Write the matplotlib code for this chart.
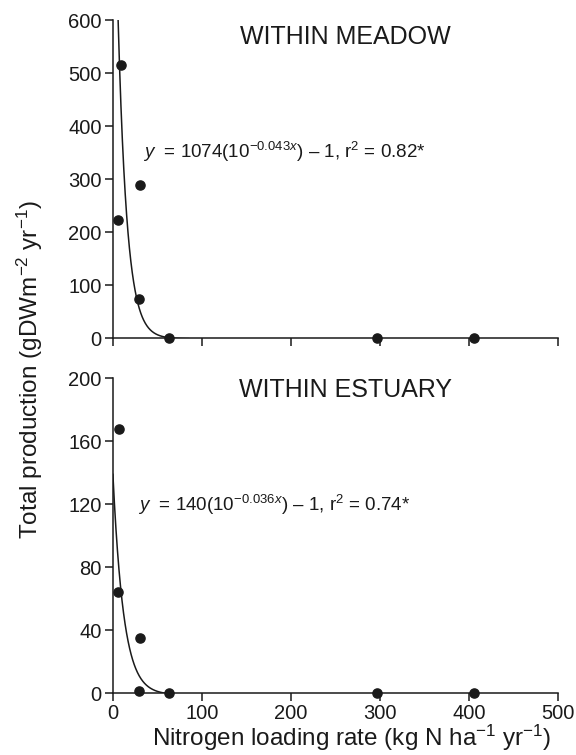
import numpy as np
import matplotlib
matplotlib.use('Agg')
import matplotlib.pyplot as plt

plt.rcParams['font.family'] = ['Liberation Sans', 'DejaVu Sans']
plt.rcParams['mathtext.fontset'] = 'custom'
plt.rcParams['mathtext.rm'] = 'Liberation Sans'
plt.rcParams['mathtext.it'] = 'Liberation Sans:italic'

# data
meadow_x = [9, 5.6, 30.7, 29.5, 63, 297, 405]
meadow_y = [515, 223, 288, 74, 0, 0, 0]
estuary_x = [7.4, 5.6, 30.7, 29.2, 63, 297, 405]
estuary_y = [167.6, 64, 35.3, 1.5, 0, 0, 0]

# fit y = a * 10^(b*x) - 1
meadow_fit = (1074, -0.043)
estuary_fit = (140, -0.036)

ink = '#1a1a1a'

fig = plt.figure(figsize=(5.76, 7.55), dpi=100)
ax1 = fig.add_axes([0.196, 0.552, 0.773, 0.4215])
ax2 = fig.add_axes([0.196, 0.0817, 0.773, 0.4173])


def panel(ax, xs, ys, fit, ymax, yticks, title, title_y, eq, eq_xy):
    a, b = fit
    x0 = max(0, np.log10((ymax + 1) / a) / b)
    xc = np.linspace(x0, 85, 300)
    ax.plot(xc, a * 10 ** (b * xc) - 1, color=ink, lw=1.1, clip_on=True)
    ax.plot(xs, ys, 'o', color=ink, ms=6.6, clip_on=False, zorder=5)
    ax.set_xlim(0, 500)
    ax.set_ylim(0, ymax)
    ax.set_xticks([0, 100, 200, 300, 400, 500])
    ax.set_yticks(yticks)
    for s in ['top', 'right']:
        ax.spines[s].set_visible(False)
    for s in ['left', 'bottom']:
        ax.spines[s].set_linewidth(1.1)
        ax.spines[s].set_color(ink)
    ax.tick_params(direction='out', length=6, width=1.1, color=ink,
                   labelsize=14.5, labelcolor=ink, pad=2)
    ax.text(261, title_y, title, fontsize=18, ha='center', va='center', color=ink)
    ax.text(eq_xy[0], eq_xy[1], eq, fontsize=13.5, ha='left', va='center', color=ink)


panel(ax1, meadow_x, meadow_y, meadow_fit, 600, [0, 100, 200, 300, 400, 500, 600],
      'WITHIN MEADOW', 568,
      r'$y$  = 1074(10$^{-0.043\mathit{x}}$) – 1, r$^2$ = 0.82*', (34, 351))
panel(ax2, estuary_x, estuary_y, estuary_fit, 200, [0, 40, 80, 120, 160, 200],
      'WITHIN ESTUARY', 192.6,
      r'$y$  = 140(10$^{-0.036\mathit{x}}$) – 1, r$^2$ = 0.74*', (28.5, 119.5))
ax1.tick_params(axis='x', labelbottom=False)

fig.text(0.052, 0.51, r'Total production (gDWm$^{-2}$ yr$^{-1}$)', rotation=90,
         fontsize=17.5, ha='center', va='center', color=ink)
fig.text(0.61, 0.022, r'Nitrogen loading rate (kg N ha$^{-1}$ yr$^{-1}$)',
         fontsize=17.5, ha='center', va='center', color=ink)

fig.savefig('out.png', dpi=100)
